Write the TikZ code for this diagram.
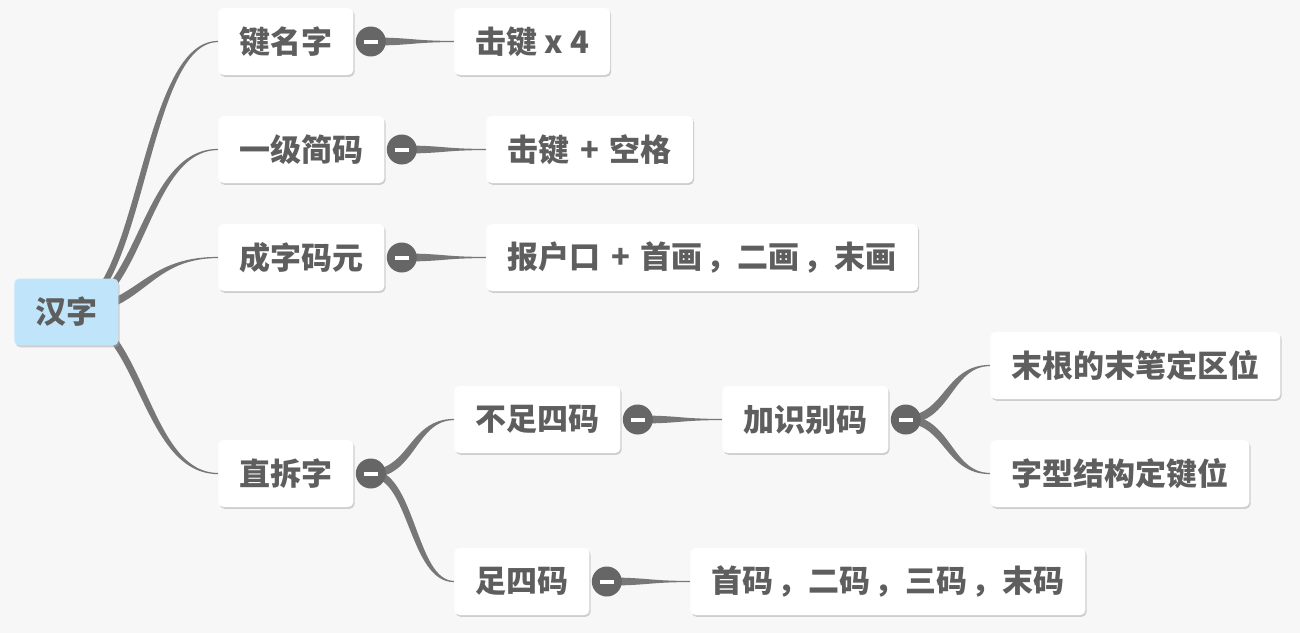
\documentclass[tikz,border=0pt]{standalone}
\usepackage{fontspec}
\setmainfont{Noto Sans CJK SC}
\usetikzlibrary{calc,shadows}
\definecolor{paper}{HTML}{F7F7F7}
\definecolor{ink}{HTML}{5E5E5E}
\definecolor{linkc}{HTML}{777777}
\definecolor{knobc}{HTML}{666666}
\definecolor{rootc}{HTML}{C0E4FA}
\pgfdeclarelayer{back}\pgfdeclarelayer{links}
\pgfsetlayers{back,links,main}
\tikzset{
  topic/.style={anchor=west,fill=white,rounded corners=2.5pt,minimum height=33.5pt,
    inner xsep=10.5pt,inner ysep=0pt,text=ink,font=\bfseries\fontsize{15.5}{18}\selectfont,
    drop shadow={shadow xshift=0.6pt,shadow yshift=-0.9pt,fill=black!35,opacity=0.5}},
  roottopic/.style={topic,fill=rootc},
  knob/.style={circle,fill=knobc,minimum size=15pt,inner sep=0pt,
    path picture={\fill[white] ([xshift=-3.6pt,yshift=-1pt]path picture bounding box.center)
      rectangle ([xshift=3.6pt,yshift=1pt]path picture bounding box.center);}}
}
% tapered branch: [half width at start]{from}{to}
\newcommand\twig[3][2pt]{%
  \fill[linkc] let \p1=(#2), \p2=(#3),
    \n1={(\x1+\x2)/2+sign(\y1-\y2)*0.8*#1},
    \n2={(\x1+\x2)/2-sign(\y1-\y2)*0.8*#1} in
    (\x1,\y1+#1) .. controls (\n1,\y1+#1) and (\n1,\y2+0.3pt) .. (\x2,\y2+0.3pt)
    -- (\x2,\y2-0.3pt) .. controls (\n2,\y2-0.3pt) and (\n2,\y1-#1) .. (\x1,\y1-#1) -- cycle;}
\newcommand\knobat[2]{\node[knob] (#1) at ([xshift=8.5pt]#2.east) {};}
\newcommand\cm{\kern2pt，}
\newcommand\pl[1]{\hspace{#1}+\hspace{#1}}

\begin{document}
\begin{tikzpicture}[x=0.5pt,y=-0.5pt]
\useasboundingbox (0,0) rectangle (1300,633);
\begin{pgfonlayer}{back}
\fill[paper] (0,0) rectangle (1300,633);
\end{pgfonlayer}
\node[roottopic] (hz) at (14,312) {汉字};
\node[topic] (jmz) at (218,41.5) {键名字};
\node[topic] (yjjm) at (218,149.5) {一级简码};
\node[topic] (czmy) at (218,257.5) {成字码元};
\node[topic] (zcz) at (218,473.5) {直拆字};
\node[topic] (jj4) at (454,41.5) {击键 x 4};
\node[topic] (jjkg) at (486,149.5) {击键\pl{0.35em}空格};
\node[topic] (bhk) at (486,257.5) {报户口\pl{0.35em}首画\cm 二画\cm 末画};
\node[topic] (bzsm) at (454,419.5) {不足四码};
\node[topic] (zsm) at (454,581.5) {足四码};
\node[topic] (jsbm) at (722,419.5) {加识别码};
\node[topic] (mgd) at (990,365.5) {末根的末笔定区位};
\node[topic] (zxjg) at (990,473.5) {字型结构定键位};
\node[topic] (smem) at (690,581.5) {首码\cm 二码\cm 三码\cm 末码};
\knobat{kjmz}{jmz}
\knobat{kyjjm}{yjjm}
\knobat{kczmy}{czmy}
\knobat{kzcz}{zcz}
\knobat{kbzsm}{bzsm}
\knobat{kjsbm}{jsbm}
\knobat{kzsm}{zsm}
\begin{pgfonlayer}{links}
\twig{hz.center}{jmz.west}
\twig{hz.center}{yjjm.west}
\twig{hz.center}{czmy.west}
\twig{hz.center}{zcz.west}
\twig{kjmz.center}{jj4.west}
\twig{kyjjm.center}{jjkg.west}
\twig{kczmy.center}{bhk.west}
\twig{kzcz.center}{bzsm.west}
\twig{kzcz.center}{zsm.west}
\twig{kbzsm.center}{jsbm.west}
\twig{kjsbm.center}{mgd.west}
\twig{kjsbm.center}{zxjg.west}
\twig{kzsm.center}{smem.west}
\end{pgfonlayer}
\end{tikzpicture}
\end{document}
